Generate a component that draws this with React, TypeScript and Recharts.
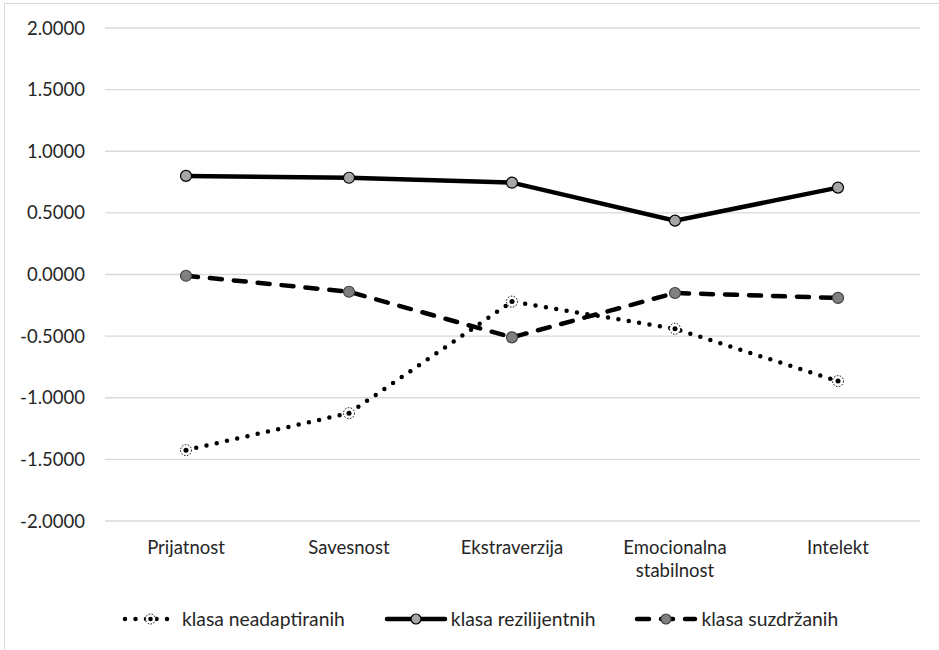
import { CartesianGrid, Legend, Line, LineChart, XAxis, YAxis } from "recharts";

const categories = ["Prijatnost", "Savesnost", "Ekstraverzija", "Emocionalna stabilnost", "Intelekt"];
const neadaptiranih = [-1.425, -1.125, -0.22, -0.44, -0.865];
const rezilijentnih = [0.8, 0.785, 0.745, 0.437, 0.705];
const suzdrzanih = [-0.01, -0.14, -0.51, -0.15, -0.19];
const yTicks = [-2, -1.5, -1, -0.5, 0, 0.5, 1, 1.5, 2];

const data = categories.map((name, i) => ({
    name,
    neadaptiranih: neadaptiranih[i],
    rezilijentnih: rezilijentnih[i],
    suzdrzanih: suzdrzanih[i],
}));

const FONT = "Lato, 'Open Sans', sans-serif";
const TEXT = "#262626";

const styles: Record<string, { dash?: string; label: string }> = {
    neadaptiranih: { dash: "0 10.5", label: "klasa neadaptiranih" },
    rezilijentnih: { label: "klasa rezilijentnih" },
    suzdrzanih: { dash: "12 12", label: "klasa suzdržanih" },
};

function DotNead(props: any) {
    const { cx, cy } = props;
    if (cx == null || cy == null) return null;
    return (
        <g>
            <circle cx={cx} cy={cy} r={5.5} fill="#fff" stroke="#000" strokeWidth={1} strokeDasharray="1.5 1.5" />
            <circle cx={cx} cy={cy} r={2.5} fill="#000" />
        </g>
    );
}

function DotRez(props: any) {
    const { cx, cy } = props;
    if (cx == null || cy == null) return null;
    return <circle cx={cx} cy={cy} r={5.5} fill="#a6a6a6" stroke="#000" strokeWidth={1.2} />;
}

function DotSuz(props: any) {
    const { cx, cy } = props;
    if (cx == null || cy == null) return null;
    return <circle cx={cx} cy={cy} r={5.5} fill="#808080" stroke="#404040" strokeWidth={1.2} />;
}

function CategoryTick(props: any) {
    const { x, y, payload } = props;
    const words = String(payload.value).split(" ");
    return (
        <text x={x} y={y} textAnchor="middle" fill={TEXT} fontSize={18.5} fontFamily={FONT}>
            {words.map((w: string, i: number) => (
                <tspan key={i} x={x} dy={i === 0 ? 25 : 23}>{w}</tspan>
            ))}
        </text>
    );
}

function LegendSample({ kind }: { kind: string }) {
    const w = kind === "neadaptiranih" ? 57 : 64;
    const mid = w / 2;
    const dot = kind === "neadaptiranih" ? (
        <g>
            <circle cx={mid} cy={8} r={5} fill="#fff" stroke="#000" strokeWidth={1} strokeDasharray="1.5 1.5" />
            <circle cx={mid} cy={8} r={2.3} fill="#000" />
        </g>
    ) : kind === "rezilijentnih" ? (
        <circle cx={mid} cy={8} r={5} fill="#a6a6a6" stroke="#000" strokeWidth={1.2} />
    ) : (
        <circle cx={mid} cy={8} r={5} fill="#808080" stroke="#404040" strokeWidth={1.2} />
    );
    return (
        <svg width={w} height={16} style={{ marginRight: 3 }}>
            <line x1={3} y1={8} x2={w - 3} y2={8} stroke="#000" strokeWidth={4.5}
                strokeLinecap="round" strokeDasharray={styles[kind].dash} />
            {dot}
        </svg>
    );
}

function CustomLegend() {
    return (
        <div style={{ display: "flex", justifyContent: "flex-start", gap: 39, fontFamily: FONT, fontSize: 19.3, color: TEXT, paddingLeft: 122, height: 24, lineHeight: "24px" }}>
            {Object.keys(styles).map((k) => (
                <div key={k} style={{ display: "flex", alignItems: "center" }}>
                    <LegendSample kind={k} />
                    <span>{styles[k].label}</span>
                </div>
            ))}
        </div>
    );
}

export default function App() {
    return (
        <div style={{ position: "absolute", left: 0, top: 0, width: 939, height: 650, overflow: "hidden", background: "#fff" }}>
            <div style={{ position: "absolute", left: 4, top: 3, width: 1000, height: 700, borderLeft: "1px solid #d9d9d9", borderTop: "1px solid #d9d9d9" }} />
            <LineChart width={939} height={650} data={data} margin={{ top: 28, right: 19, left: 0, bottom: 19 }}>
                <CartesianGrid horizontal vertical={false} stroke="#d9d9d9" strokeWidth={1.3} />
                <XAxis dataKey="name" axisLine={false} tickLine={false} tick={<CategoryTick />} height={86}
                    interval={0} padding={{ left: 81, right: 82 }} />
                <YAxis
                    domain={[-2, 2]}
                    ticks={yTicks}
                    axisLine={false}
                    tickLine={false}
                    width={105}
                    tickMargin={14}
                    tickFormatter={(v: number) => v.toFixed(4)}
                    tick={{ fill: TEXT, fontSize: 18.5, fontFamily: FONT }}
                />
                <Line dataKey="neadaptiranih" stroke="#000" strokeWidth={4.5} strokeDasharray="0 10.5"
                    strokeLinecap="round" dot={<DotNead />} isAnimationActive={false} />
                <Line dataKey="rezilijentnih" stroke="#000" strokeWidth={4.5} dot={<DotRez />} isAnimationActive={false} />
                <Line dataKey="suzdrzanih" stroke="#000" strokeWidth={4.5} strokeDasharray="12 12"
                    strokeLinecap="round" dot={<DotSuz />} isAnimationActive={false} />
                <Legend verticalAlign="bottom" content={<CustomLegend />} />
            </LineChart>
        </div>
    );
}
